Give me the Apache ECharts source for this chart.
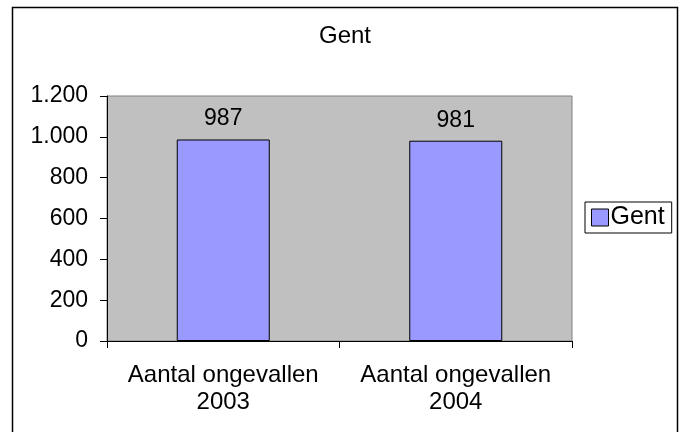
<!DOCTYPE html>
<html>
<head>
<meta charset="utf-8">
<script src="https://cdn.jsdelivr.net/npm/echarts@6/dist/echarts.min.js"></script>
<style>
  html, body { margin: 0; padding: 0; background: #fff; }
  #main { width: 682px; height: 432px; }
</style>
</head>
<body>
<div id="main"></div>
<script>
// data
const categories = ['Aantal ongevallen\n2003', 'Aantal ongevallen\n2004'];
const gentValues = [987, 981];
const yTicks = [0, 200, 400, 600, 800, 1000, 1200];

const font = "'Liberation Sans', Arial, sans-serif";
const chart = echarts.init(document.getElementById('main'));

// thousands with a dot, like the Dutch Excel chart
function fmt(v) {
    return String(v).replace(/\B(?=(\d{3})+(?!\d))/g, '.');
}

let option = {
    animation: false,
    backgroundColor: '#fff',
    title: {
        text: 'Gent',
        left: 314,
        top: 19,
        textStyle: { fontFamily: font, fontSize: 24, fontWeight: 'normal', color: '#000' }
    },
    legend: {
        left: 585,
        top: 202,
        padding: [3, 7, 3, 6],
        borderColor: '#000',
        borderWidth: 1,
        itemWidth: 17,
        itemHeight: 17,
        icon: 'rect',
        textStyle: { fontFamily: font, fontSize: 25, color: '#000', padding: [0, 0, 0, -3] },
        data: [{ name: 'Gent', itemStyle: { borderColor: '#000', borderWidth: 1 } }]
    },
    graphic: [{
        type: 'rect',
        shape: { x: 12.5, y: 7.5, width: 665, height: 440 },
        style: { fill: 'none', stroke: '#000', lineWidth: 1.5 },
        z: -1
    }],
    grid: {
        left: 107,
        right: 110,
        top: 96,
        bottom: 91,
        show: true,
        backgroundColor: '#c0c0c0',
        borderColor: '#808080',
        borderWidth: 1
    },
    xAxis: {
        type: 'category',
        data: categories,
        axisLine: { lineStyle: { color: '#000', width: 1 } },
        axisTick: { show: true, length: 7, lineStyle: { color: '#000' } },
        axisLabel: {
            fontFamily: font, fontSize: 24, color: '#000',
            lineHeight: 27, margin: 21, interval: 0
        }
    },
    yAxis: {
        type: 'value',
        min: 0,
        max: 1200,
        interval: 200,
        splitLine: { show: false },
        axisLine: { show: true, lineStyle: { color: '#000', width: 1 } },
        axisTick: { show: true, length: 7, lineStyle: { color: '#000' } },
        axisLabel: {
            fontFamily: font, fontSize: 23, color: '#000', margin: 19,
            formatter: function (v) { return yTicks.indexOf(v) >= 0 ? fmt(v) : ''; }
        }
    },
    series: [{
        name: 'Gent',
        type: 'bar',
        data: gentValues,
        barWidth: '40%',
        itemStyle: { color: '#9999ff', borderColor: '#000', borderWidth: 1 },
        label: {
            show: true,
            position: 'top',
            distance: 9,
            fontFamily: font,
            fontSize: 23,
            color: '#000'
        }
    }]
};

option && chart.setOption(option);
</script>
</body>
</html>
